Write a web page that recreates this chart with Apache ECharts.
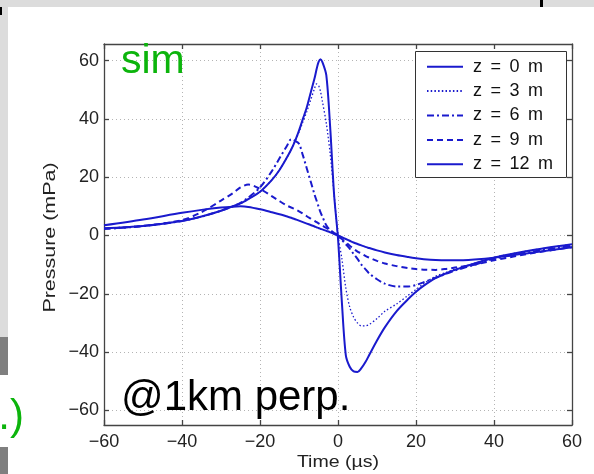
<!DOCTYPE html>
<html><head><meta charset="utf-8">
<script src="https://cdn.jsdelivr.net/npm/echarts@6.0.0/dist/echarts.min.js"></script>
<style>html,body{margin:0;padding:0;background:#fff}#c{width:594px;height:474px}</style>
</head><body><div id="c"></div>
<script>
// time axis (µs)
const time = [-60,-50,-40,-35,-30,-27,-25,-23,-20,-17,-15,-13,-12,-11,-10,-9,-8,-7,-6,-5.5,-5,-4.5,-4,-3,-2,-1,0,1,2,3,4,5,6,7,8,10,12,15,18,20,22,25,28,30,35,40,50,60];
// pressure (mPa) per depth
const p_z0  = [2.5,3.3,5,6.5,8.5,10,11,12.5,15,19,22.5,27,29.5,32.5,36,40,44,49,54,57,59.5,60.5,59.5,55,37,14,-1,-23,-41,-45,-46.6,-46.8,-45.5,-43.5,-41,-36,-31.5,-26,-21.8,-19.3,-17.2,-14.6,-12.8,-11.8,-9.6,-7.6,-5,-3];
const p_z3  = [2.5,3.3,5,6.5,8.5,10,11,12.5,15,19,22.5,27,29.5,32.5,35.5,39,42.5,46.5,50.5,52,51.5,49.5,46,38.5,28,14,0,-8,-18,-24.5,-28,-30,-31,-31,-30.5,-28.5,-26,-23.5,-20.5,-18.5,-16.5,-14,-12.5,-11.5,-9.5,-7.5,-5,-3];
const p_z6  = [2.3,3.2,5,6.5,8.5,10,11.2,13,16.5,22,26.5,31,33,32.5,31.5,27.5,23,18.5,14,12,10,8,6.5,3.5,1.8,0.8,0,-1.5,-3,-4.5,-6.3,-8,-10,-11.5,-13,-15,-16.5,-17.5,-17.5,-17,-16,-14.5,-13,-12,-10,-8,-5.5,-3.5];
const p_z9  = [2.3,3.3,5.3,8,12,14.5,16.5,17.5,16,13.5,11.8,10.2,9.6,9,8.3,7.5,6.6,5.8,5,4.6,4.2,3.8,3.4,2.6,1.8,0.9,0,-1.2,-2.4,-3.5,-4.5,-5.5,-6.2,-7,-7.6,-8.7,-9.6,-10.5,-11.2,-11.5,-11.7,-11.8,-11.4,-11,-10,-8.5,-6,-4];
const p_z12 = [3.5,5.5,7.8,8.8,9.6,9.9,10,9.8,9,8,7.3,6.5,6.1,5.6,5.1,4.6,4.1,3.6,3.1,2.8,2.6,2.3,2.1,1.6,1.1,0.5,0,-0.6,-1.2,-1.8,-2.4,-2.9,-3.4,-3.9,-4.3,-5.1,-5.8,-6.7,-7.4,-7.8,-8.1,-8.4,-8.5,-8.5,-8.2,-7.6,-5.8,-4];
const seriesNames = ['z = 0 m','z = 3 m','z = 6 m','z = 9 m','z = 12 m'];
const xTicks = [-60,-40,-20,0,20,40,60];
const yTicks = [-60,-40,-20,0,20,40,60];

const BLUE = '#1a1acd';
const FONT = '"Liberation Sans", Arial, Helvetica, sans-serif';
const values = [p_z0,p_z3,p_z6,p_z9,p_z12];
const styles = [
  {type:'solid', width:2},
  {type:[1.5,2.2], width:1.3},
  {type:[7,3,2,3], width:2},
  {type:[6,4], width:2},
  {type:'solid', width:2}
];
const minusFmt = v => v < 0 ? '\u2212' + (-v) : String(v);
const axisLineStyle = {color:'#444', width:1.3};

const chart = echarts.init(document.getElementById('c'), null, {renderer:'canvas'});
chart.setOption({
  animation:false,
  backgroundColor:'#ffffff',
  grid:{left:104, right:22, top:44, bottom:49, containLabel:false, outerBoundsMode:'none'},
  xAxis:[
    {type:'value', min:-60, max:60, interval:20, position:'bottom',
     axisLine:{show:true, onZero:false, lineStyle:axisLineStyle},
     axisTick:{show:true, inside:true, length:5, lineStyle:axisLineStyle},
     axisLabel:{show:true, fontSize:18, color:'#222', fontFamily:FONT, margin:8, formatter:minusFmt},
     splitLine:{show:true, lineStyle:{color:'#b4b4b4', width:1, type:[1,3]}}},
    {type:'value', min:-60, max:60, interval:20, position:'top',
     axisLine:{show:true, onZero:false, lineStyle:axisLineStyle},
     axisTick:{show:true, inside:true, length:5, lineStyle:axisLineStyle},
     axisLabel:{show:false}, splitLine:{show:false}}
  ],
  yAxis:[
    {type:'value', min:-65, max:65.7, position:'left',
     axisLine:{show:true, onZero:false, lineStyle:axisLineStyle},
     axisTick:{show:true, inside:true, length:5, lineStyle:axisLineStyle, customValues:yTicks},
     axisLabel:{show:true, fontSize:18, color:'#222', fontFamily:FONT, margin:5, formatter:minusFmt, customValues:yTicks},
     splitLine:{show:true, lineStyle:{color:'#b4b4b4', width:1, type:[1,3]}}},
    {type:'value', min:-65, max:65.7, position:'right',
     axisLine:{show:true, onZero:false, lineStyle:axisLineStyle},
     axisTick:{show:true, inside:true, length:5, lineStyle:axisLineStyle, customValues:yTicks},
     axisLabel:{show:false, customValues:yTicks}, splitLine:{show:false}}
  ],
  legend:{
    orient:'vertical', left:426, top:57.7, padding:0, itemWidth:36, itemHeight:14, itemGap:6.4,
    z:10,
    data:seriesNames,
    itemStyle:{color:'rgba(0,0,0,0)', borderColor:'rgba(0,0,0,0)', borderWidth:0, opacity:0},
    formatter: name => name.split(' ').join('{s| }'),
    textStyle:{fontSize:18, color:'#111', fontFamily:FONT, lineHeight:18, padding:[0,0,0,5],
      rich:{s:{width:8.5, fontSize:18, lineHeight:18, fontFamily:FONT, padding:0}}}
  },
  graphic:[
    {type:'rect', z:-10, shape:{x:0,y:0,width:594,height:7}, style:{fill:'#dcdcdc'}, silent:true},
    {type:'rect', z:-10, shape:{x:0,y:0,width:8,height:474}, style:{fill:'#dcdcdc'}, silent:true},
    {type:'rect', z:-9, shape:{x:0,y:375,width:8,height:72}, style:{fill:'#ffffff'}, silent:true},
    {type:'rect', z:-9, shape:{x:0,y:337,width:8,height:38}, style:{fill:'#7f7f7f'}, silent:true},
    {type:'rect', z:-9, shape:{x:0,y:447,width:8,height:27}, style:{fill:'#7f7f7f'}, silent:true},
    {type:'rect', z:-8, shape:{x:0,y:7,width:2,height:8}, style:{fill:'#000'}, silent:true},
    {type:'rect', z:-8, shape:{x:540,y:0,width:3,height:7}, style:{fill:'#000'}, silent:true},
    {type:'rect', z:1, shape:{x:415.5,y:51.5,width:151,height:126}, style:{fill:'#fff', stroke:'#333', lineWidth:1}, silent:true},
    {type:'text', z:20, x:24, y:417, style:{text:'.)', fill:'#0cb40c', font:'42px '+FONT, align:'right', verticalAlign:'middle'}, silent:true},
    {type:'text', z:20, x:121, y:62, style:{text:'sim', fill:'#0cb40c', font:'41px '+FONT, align:'left', verticalAlign:'middle'}, silent:true},
    {type:'text', z:20, x:121, y:398, style:{text:'@1km perp.', fill:'#000', font:'42px '+FONT, align:'left', verticalAlign:'middle'}, silent:true},
    {type:'text', z:20, x:338, y:462, scaleX:1.15, style:{text:'Time (\u00b5s)', fill:'#222', font:'17px '+FONT, align:'center', verticalAlign:'middle'}, silent:true},
    {type:'text', z:20, x:50, y:237.5, rotation:Math.PI/2, scaleX:1.3, style:{text:'Pressure (mPa)', fill:'#222', font:'16.5px '+FONT, align:'center', verticalAlign:'middle'}, silent:true}
  ],
  series: values.map((arr,i)=>({
    name:seriesNames[i], type:'line', xAxisIndex:0, yAxisIndex:0,
    data: time.map((t,j)=>[t, arr[j]]),
    symbol:'none', showSymbol:false, smooth:0.3,
    lineStyle:Object.assign({color:BLUE}, styles[i]), itemStyle:{color:BLUE},
    z:2
  }))
});
</script></body></html>
